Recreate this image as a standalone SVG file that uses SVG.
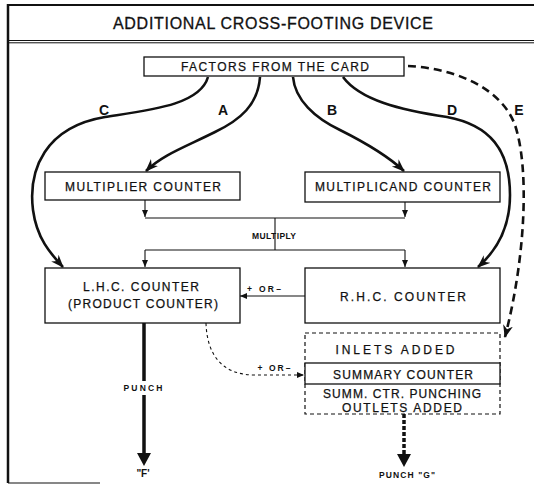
<svg xmlns="http://www.w3.org/2000/svg" width="534" height="485" viewBox="0 0 534 485">
<defs>
<style>
.t{font-family:"Liberation Sans",Arial,sans-serif;fill:#111;text-anchor:middle}
.box{fill:#fff;stroke:#111;stroke-width:1.3}
.dbox{fill:#fff;stroke:#111;stroke-width:1.2;stroke-dasharray:4 3}
.curve{fill:none;stroke:#111;stroke-width:2.6}
.thin{fill:none;stroke:#111;stroke-width:1.1}
.lbl{font-size:14px;font-weight:bold}
.sm{font-size:8.5px;font-weight:bold}
.n{font-size:12px;stroke:#111;stroke-width:0.25}
</style>
<marker id="big" markerUnits="userSpaceOnUse" markerWidth="14" markerHeight="12" refX="12" refY="5" orient="auto">
<path d="M0,0 L13,5 L0,10 L4,5 z" fill="#111"/>
</marker>
<marker id="small" markerUnits="userSpaceOnUse" markerWidth="8" markerHeight="8" refX="7" refY="3" orient="auto">
<path d="M0,0 L7,3 L0,6 z" fill="#111"/>
</marker>
</defs>
<rect width="534" height="485" fill="#fff"/>
<g id="frame">
<line x1="8" y1="5" x2="534" y2="5" stroke="#111" stroke-width="2"/>
<line x1="8" y1="4" x2="8" y2="483" stroke="#111" stroke-width="2.5"/>
<line x1="8" y1="40.5" x2="534" y2="40.5" stroke="#111" stroke-width="1"/>
<line x1="8" y1="42.8" x2="534" y2="42.8" stroke="#111" stroke-width="1"/>
<line x1="8" y1="483" x2="100" y2="483" stroke="#111" stroke-width="1.2"/>
<text class="t" x="273" y="29" font-size="16" stroke="#111" stroke-width="0.3" textLength="320" lengthAdjust="spacing">ADDITIONAL CROSS-FOOTING DEVICE</text>
</g>
<g id="connectors">
<path class="curve" d="M208,77 C200,105 150,110 105,117 C45,127 28,170 33,210 C37,240 52,255 63,267" marker-end="url(#big)"/>
<path class="curve" d="M260,77 C258,105 240,120 215,132 C185,147 162,155 146,171" marker-end="url(#big)"/>
<path class="curve" d="M293,77 C295,100 315,118 340,130 C370,145 390,158 404,171" marker-end="url(#big)"/>
<path class="curve" d="M343,77 C360,100 400,110 447,117 C490,125 510,150 510,195 C510,230 495,252 478,267" marker-end="url(#big)"/>
<path class="curve" d="M408,66 C450,68 500,85 515,125 C530,170 525,260 505,337" stroke-dasharray="8 5" marker-end="url(#big)"/>
<path class="thin" d="M145,200 V217" marker-end="url(#small)"/>
<path class="thin" d="M405,202 V217" marker-end="url(#small)"/>
<path class="thin" d="M145,218 H405 M275,218 V250 M145,250 H405"/>
<path class="thin" d="M145,250 V267" marker-end="url(#small)"/>
<path class="thin" d="M405,250 V267" marker-end="url(#small)"/>
<path class="thin" d="M305,296 H240" marker-end="url(#small)"/>
<path class="thin" d="M206,323 C207,355 222,375 255,375 L304,375" stroke-dasharray="3 3" marker-end="url(#small)"/>
<path d="M144,323 V381 M144,395 V455" fill="none" stroke="#111" stroke-width="3.5"/>
<path d="M137,453 L144,466 L151,453 z" fill="#111"/>
<path d="M404,414 V456" fill="none" stroke="#111" stroke-width="3.5" stroke-dasharray="4 2"/>
<path d="M397,454 L404,467 L411,454 z" fill="#111"/>
<text class="t lbl" x="104" y="115">C</text>
<text class="t lbl" x="223" y="115">A</text>
<text class="t lbl" x="332" y="115">B</text>
<text class="t lbl" x="452" y="115">D</text>
<text class="t lbl" x="519" y="115">E</text>
<text class="t sm" x="274" y="238.5" textLength="44" lengthAdjust="spacing">MULTIPLY</text>
<text class="t sm" x="264" y="292" textLength="34" lengthAdjust="spacing">+ OR–</text>
<text class="t sm" x="274" y="371" textLength="33" lengthAdjust="spacing">+ OR–</text>
<text class="t sm" x="143" y="391" textLength="39" lengthAdjust="spacing">PUNCH</text>
<text class="t" x="143" y="477" font-size="10" font-weight="bold">"F'</text>
<text class="t sm" x="407" y="478" textLength="56" lengthAdjust="spacing">PUNCH "G"</text>
</g>
<g id="factors">
<rect class="box" x="144" y="57" width="260" height="19"/>
<text class="t n" x="275" y="70.5" textLength="188" lengthAdjust="spacing">FACTORS FROM THE CARD</text>
</g>
<g id="multiplier">
<rect class="box" x="45" y="172" width="195" height="28"/>
<text class="t n" x="143" y="190.5" textLength="156" lengthAdjust="spacing">MULTIPLIER COUNTER</text>
</g>
<g id="multiplicand">
<rect class="box" x="305" y="172" width="195" height="30"/>
<text class="t n" x="403" y="191" textLength="176" lengthAdjust="spacing">MULTIPLICAND COUNTER</text>
</g>
<g id="lhc">
<rect class="box" x="45" y="268" width="195" height="55"/>
<text class="t n" x="141" y="291" textLength="116" lengthAdjust="spacing">L.H.C. COUNTER</text>
<text class="t n" x="143" y="308" textLength="150" lengthAdjust="spacing">(PRODUCT COUNTER)</text>
</g>
<g id="rhc">
<rect class="box" x="305" y="268" width="195" height="55"/>
<text class="t n" x="403" y="301" textLength="126" lengthAdjust="spacing">R.H.C. COUNTER</text>
</g>
<g id="summary">
<rect class="dbox" x="305" y="333" width="195" height="81"/>
<text class="t n" x="395" y="354" textLength="119" lengthAdjust="spacing">INLETS ADDED</text>
<rect class="box" x="305" y="363" width="195" height="21"/>
<text class="t n" x="403" y="378.5" textLength="140" lengthAdjust="spacing">SUMMARY COUNTER</text>
<text class="t n" x="402" y="398" textLength="158" lengthAdjust="spacing">SUMM. CTR. PUNCHING</text>
<text class="t n" x="402" y="412" textLength="120" lengthAdjust="spacing">OUTLETS ADDED</text>
</g>
</svg>
